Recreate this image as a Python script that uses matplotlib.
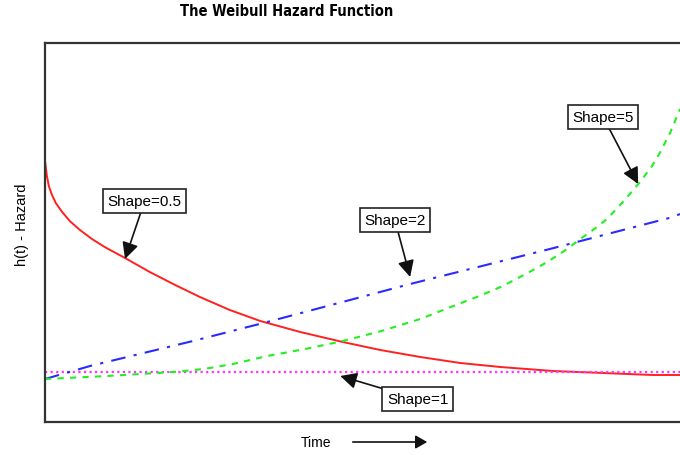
import matplotlib
matplotlib.use("Agg")
import matplotlib.pyplot as plt
from matplotlib import font_manager

# values (time 0..10, hazard in arbitrary units)
t_half = [0.0, 0.03, 0.06, 0.11, 0.17, 0.27, 0.39, 0.55, 0.74, 0.94, 1.26, 1.65, 2.05,
          2.44, 2.91, 3.39, 4.02, 4.69, 5.28, 5.91, 6.54, 7.17, 8.0, 8.79, 9.57, 10.0]
h_half = [2.18, 2.03, 1.93, 1.84, 1.76, 1.67, 1.58, 1.49, 1.40, 1.32, 1.21, 1.07, 0.94,
          0.82, 0.69, 0.58, 0.47, 0.37, 0.29, 0.22, 0.16, 0.12, 0.08, 0.06, 0.04, 0.04]

t_one = [0.0, 10.0]
h_one = [0.07, 0.07]

t_two = [0.0, 0.71, 2.33, 3.5, 5.75, 7.95, 9.89, 10.0]
h_two = [0.0, 0.13, 0.38, 0.57, 0.95, 1.30, 1.62, 1.65]

t_five = [0.0, 0.98, 2.02, 2.5, 2.96, 3.5, 4.1, 4.69, 5.3, 5.91, 6.43, 6.8, 7.21, 7.6,
          7.91, 8.2, 8.43, 8.65, 8.85, 9.1, 9.37, 9.55, 9.69, 9.85, 10.0]
h_five = [0.0, 0.03, 0.07, 0.10, 0.15, 0.23, 0.30, 0.38, 0.48, 0.60, 0.73, 0.82, 0.93, 1.06,
          1.17, 1.29, 1.40, 1.50, 1.60, 1.77, 1.97, 2.12, 2.27, 2.47, 2.70]

labels = ["Shape=0.5", "Shape=1", "Shape=2", "Shape=5"]

fig = plt.figure(figsize=(6.8, 4.56), dpi=100)
ax = fig.add_axes([45 / 680, 33 / 456, 1 - 45 / 680 + 0.01, 379 / 456])

ax.plot(t_half, h_half, color="#ff2020", lw=1.4, ls="-")
ax.plot(t_one, h_one, color="#ff33ff", lw=1.6, ls=(0, (1, 1.5)))
ax.plot(t_two, h_two, color="#2a2aff", lw=1.5, ls=(0, (7, 4, 1.5, 4)))
ax.plot(t_five, h_five, color="#22ee22", lw=1.5, ls=(0, (3, 3)))

ax.set_xlim(0, 10.0 * (1 - 45 / 680 + 0.01) / (1 - 45 / 680))
ax.set_ylim(-0.43, 3.36)
ax.set_xticks([])
ax.set_yticks([])
for s in ["left", "top", "bottom"]:
    ax.spines[s].set_color("#333333")
    ax.spines[s].set_linewidth(1.6)
ax.spines["right"].set_visible(False)

font = ["Liberation Sans", "DejaVu Sans"]
box = dict(boxstyle="square,pad=0.3", fc="white", ec="#222222", lw=1.2)
arr = dict(arrowstyle="-|>,head_length=0.9,head_width=0.45", color="#111111",
           lw=1.2, shrinkA=0, shrinkB=0)

# label positions, arrow tips
txt_pos = [(1.57, 1.78), (5.87, -0.20), (5.51, 1.59), (8.79, 2.62)]
tip_pos = [(1.26, 1.20), (4.65, 0.03), (5.75, 1.02), (9.34, 1.95)]
for lab, p, q in zip(labels, txt_pos, tip_pos):
    ax.annotate(lab, xy=q, xytext=p, ha="center", va="center", fontsize=11,
                family=font, bbox=box, arrowprops=arr, zorder=5)

names = {f.name for f in font_manager.fontManager.ttflist}
if "Liberation Sans Narrow" in names:
    tfont = dict(family="Liberation Sans Narrow", fontsize=13.5)
else:
    tfont = dict(family="DejaVu Sans", stretch="condensed", fontsize=10.5)
fig.text(287 / 680, 1 - 12 / 456, "The Weibull Hazard Function", ha="center", va="center",
         fontweight="bold", **tfont)
fig.text(22 / 680, 1 - 225 / 456, "h(t) - Hazard", rotation=90, ha="center", va="center",
         fontsize=10.5, family=font)
fig.text(316 / 680, 1 - 443 / 456, "Time", ha="center", va="center", fontsize=10, family=font)
fig.add_artist(matplotlib.patches.FancyArrowPatch(
    (350 / 680, 1 - 443 / 456), (430 / 680, 1 - 443 / 456), transform=fig.transFigure,
    arrowstyle="-|>,head_length=7,head_width=4", color="#111111", lw=1.2))

fig.savefig("out.png", dpi=100)
